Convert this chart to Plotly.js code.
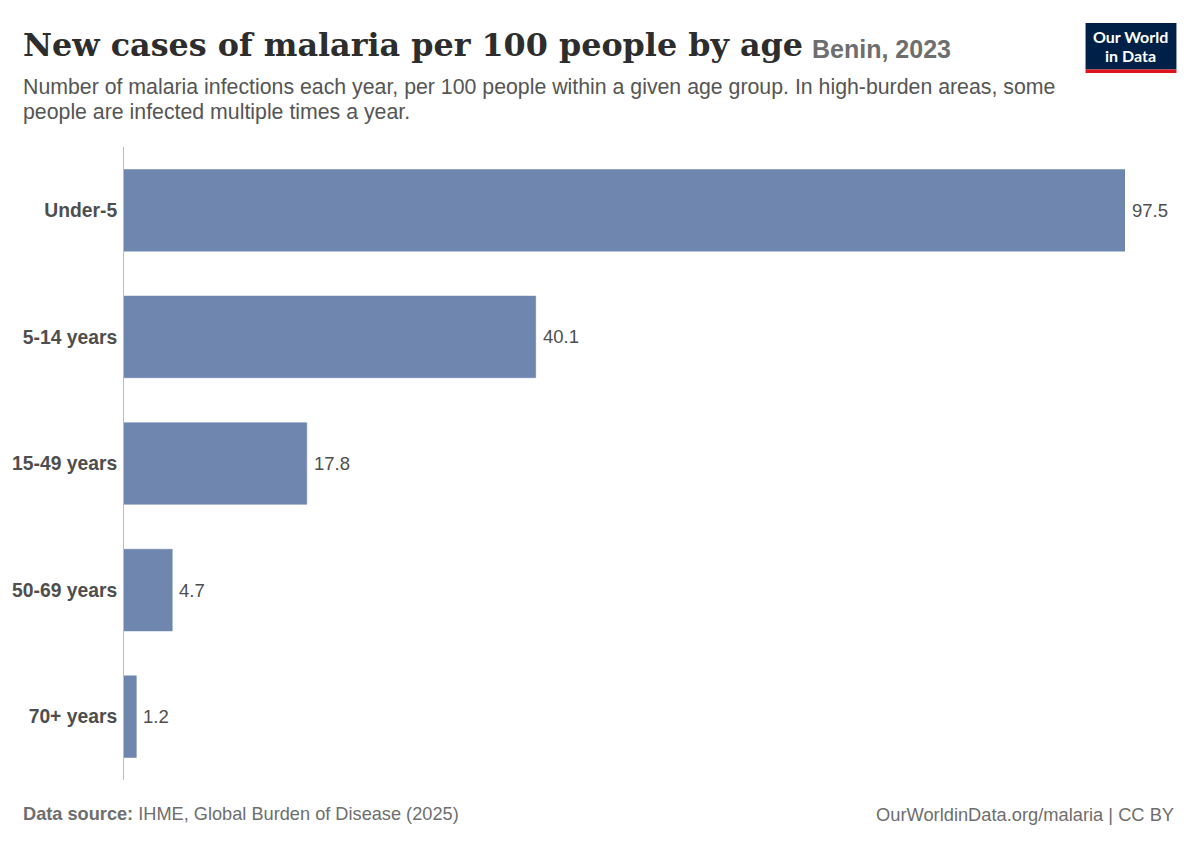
<!DOCTYPE html>
<html><head><meta charset="utf-8">
<script src="https://cdn.plot.ly/plotly-3.0.1.min.js"></script>
<style>html,body{margin:0;padding:0;background:#fff}#c{width:1200px;height:847px}</style>
</head><body><div id="c"></div>
<script>
const categories = ["Under-5","5-14 years","15-49 years","50-69 years","70+ years"];
const values = [97.5,40.1,17.8,4.7,1.2];
const valueLabels = ["97.5","40.1","17.8","4.7","1.2"];
const titleText = "New cases of malaria per 100 people by age";
const entityText = "Benin, 2023";
const subtitleLines = ["Number of malaria infections each year, per 100 people within a given age group. In high-burden areas, some","people are infected multiple times a year."];
const sourceText = "<b>Data source:</b> IHME, Global Burden of Disease (2025)";
const creditText = "OurWorldinData.org/malaria | CC BY";

const W=1200,H=847,L=123.5,R=1125.5,T=147,B=780;
const px=x=>(x-L)/(R-L), py=y=>(B-y)/(B-T);
const sans='"Liberation Sans", Arial, sans-serif';
function label(x,y,text,size,color,family,anchor){
  return {xref:'paper',yref:'paper',x:px(x),y:py(y),text:text,showarrow:false,xanchor:anchor||'left',yanchor:'middle',
    align:anchor||'left',font:{size:size,color:color,family:family||sans},borderpad:0,borderwidth:0};
}
const annotations=[
  label(22,45,"<b>"+titleText+"</b>",31.8,"#2d2d2d",'"DejaVu Serif", serif'),
  label(812,48.5,"<b>"+entityText+"</b>",25,"#6e6e6e"),
  label(22,87,subtitleLines[0],21.3,"#555555"),
  label(22,112.5,subtitleLines[1],21.3,"#555555"),
  label(22,814,sourceText,18.2,"#6e6e6e"),
  label(1175,814,creditText,18.3,"#6e6e6e",sans,'right'),
  label(1131.5,36.5,"<b>Our World</b>",16,"#ffffff",'Lato, sans-serif','center'),
  label(1131.5,55.5,"<b>in Data</b>",16,"#ffffff",'Lato, sans-serif','center')
];
values.forEach((v,i)=>annotations.push({xref:'x',yref:'y',x:v,y:categories[i],text:valueLabels[i],showarrow:false,
  xanchor:'left',yanchor:'middle',xshift:5,font:{size:18.5,color:"#4e4e4e",family:sans}}));
const shapes=[
  {type:'rect',xref:'paper',yref:'paper',x0:px(1086),x1:px(1177),y0:py(23),y1:py(69.5),fillcolor:'#002147',line:{width:0}},
  {type:'rect',xref:'paper',yref:'paper',x0:px(1086),x1:px(1177),y0:py(69.5),y1:py(73),fillcolor:'#e0141e',line:{width:0}}
];
Plotly.newPlot('c',[{type:'bar',orientation:'h',x:values,y:categories,width:0.645,
  marker:{color:'#6f87ae',line:{color:'#6482ad',width:0.5}},hoverinfo:'skip'}],{
  width:W,height:H,margin:{l:L,r:W-R,t:T,b:H-B,pad:0},paper_bgcolor:'#fff',plot_bgcolor:'#fff',showlegend:false,
  xaxis:{range:[0,97.5],visible:false,fixedrange:true},
  yaxis:{type:'category',categoryorder:'array',categoryarray:categories,autorange:false,range:[4.5,-0.5],
    showline:true,linecolor:'#bdbdbd',linewidth:1,showgrid:false,zeroline:false,ticks:'',ticklabelstandoff:2,
    tickfont:{size:19.3,color:'#4e4e4e',family:'"Liberation Sans", Arial, sans-serif',weight:700},fixedrange:true},
  annotations:annotations,shapes:shapes
},{displayModeBar:false,staticPlot:true});
</script></body></html>
